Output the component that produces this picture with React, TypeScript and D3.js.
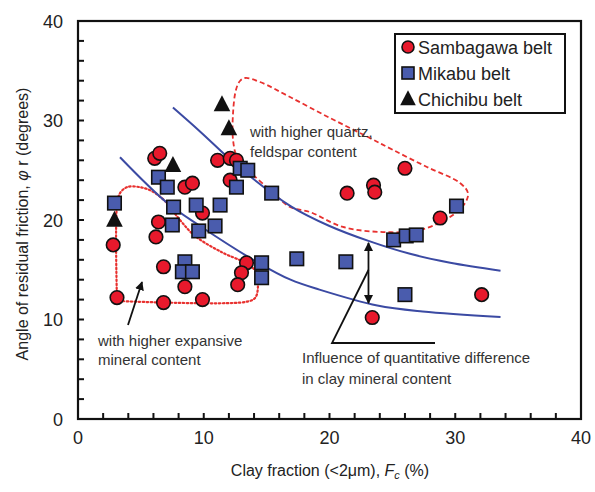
import React from 'react';
import * as d3 from 'd3';

// ---- data ----
const sambagawa: [number, number][] = [
  [2.8, 17.5], [3.1, 12.2], [6.1, 26.2], [6.5, 26.7], [8.5, 23.3], [9.1, 23.7],
  [6.4, 19.8], [6.2, 18.3], [6.8, 15.3], [8.5, 13.3], [6.8, 11.7], [9.9, 12.0],
  [9.9, 20.7], [11.1, 26.0], [12.1, 26.2], [12.6, 26.0], [12.1, 24.0], [13.4, 15.7],
  [13.0, 14.7], [12.7, 13.5], [21.4, 22.7], [23.5, 23.5], [23.6, 22.8], [26.0, 25.2],
  [28.8, 20.2], [32.1, 12.5], [23.4, 10.2],
];
const mikabu: [number, number][] = [
  [2.9, 21.7], [6.4, 24.3], [7.1, 23.3], [7.6, 21.3], [9.4, 21.5], [7.5, 19.5],
  [8.5, 15.8], [8.3, 14.8], [9.1, 14.8], [9.6, 18.9], [10.9, 19.4], [11.3, 21.5],
  [12.9, 25.2], [13.5, 25.0], [12.6, 23.3], [15.4, 22.7], [14.6, 15.7], [14.6, 14.2],
  [17.4, 16.1], [21.3, 15.8], [25.1, 18.0], [26.1, 18.4], [26.9, 18.5], [30.1, 21.4],
  [26.0, 12.5],
];
const chichibu: [number, number][] = [
  [2.9, 20.0], [7.55, 25.5], [11.45, 31.6], [12.0, 29.2],
];
const upperCurve: [number, number][] = [
  [7.55, 31.3], [9.7, 28.9], [12.9, 25.2], [16.9, 21.4], [20.0, 19.4],
  [23.1, 17.9], [26.4, 16.6], [29.6, 15.7], [33.6, 14.9],
];
const lowerCurve: [number, number][] = [
  [3.34, 26.3], [7.1, 21.7], [9.7, 19.4], [14.2, 15.8], [16.9, 14.0],
  [19.2, 13.0], [23.8, 11.4], [27.4, 10.8], [33.6, 10.25],
];
const expansiveBoundary: [number, number][] = [
  [3.1, 11.86], [3.1, 21.5], [3.34, 22.7], [3.9, 23.3], [4.93, 23.3], [5.88, 22.9],
  [6.92, 21.9], [8.11, 20.0], [9.3, 18.4], [11.53, 16.7], [13.12, 15.8], [14.16, 14.8],
  [14.31, 13.3], [14.08, 12.16], [13.28, 11.76], [3.1, 11.86],
];
const quartzBoundary: [number, number][] = [
  [13.28, 34.27], [14.47, 33.87], [16.86, 32.36], [20.04, 30.25], [23.06, 28.34],
  [25.05, 27.04], [27.75, 25.33], [30.38, 23.72], [31.01, 22.71], [30.78, 21.71],
  [29.58, 20.3], [27.2, 19.0], [24.25, 18.79], [21.07, 19.3], [18.45, 20.8],
  [16.86, 21.31], [15.27, 23.02], [13.28, 25.33], [12.64, 26.33], [12.33, 28.04],
  [12.33, 30.75], [12.56, 33.07], [12.88, 33.97],
];
const majorTicks = [0, 10, 20, 30, 40];
const minorTicks = d3.range(2, 40, 2);
const legendItems = ['Sambagawa belt', 'Mikabu belt', 'Chichibu belt'];

const RED = '#e8192c';
const BLUE = '#4a5cad';
const LINE_BLUE = '#3b4aa3';
const FONT = '"Liberation Sans", Arial, sans-serif';

export default function App() {
  const W = 595, H = 492;
  const x = d3.scaleLinear().domain([0, 40]).range([78, 581]);
  const y = d3.scaleLinear().domain([0, 40]).range([419, 21]);

  const smooth = d3.line<[number, number]>().x(d => x(d[0])).y(d => y(d[1])).curve(d3.curveCatmullRom.alpha(0.5));
  const closed = d3.line<[number, number]>().x(d => x(d[0])).y(d => y(d[1])).curve(d3.curveCatmullRomClosed.alpha(0.5));

  const tri = (cx: number, cy: number, s: number) =>
    `M${cx},${cy - s * 0.58}L${cx + s * 0.52},${cy + s * 0.42}L${cx - s * 0.52},${cy + s * 0.42}Z`;

  const circle = (cx: number, cy: number, r: number, key: any) => (
    <circle key={key} cx={cx} cy={cy} r={r} fill={RED} stroke="#111" strokeWidth={1.6} />
  );
  const square = (cx: number, cy: number, s: number, key: any) => (
    <rect key={key} x={cx - s / 2} y={cy - s / 2} width={s} height={s} fill={BLUE} stroke="#111" strokeWidth={1.6} />
  );

  const dblX = x(23.1);
  const dblTop = y(17.7);
  const dblBot = y(11.65);

  return (
    <svg width={W} height={H} style={{ position: 'absolute', left: 0, top: 0, background: '#fff' }} fontFamily={FONT}>
      <defs>
        <marker id="ah" viewBox="0 0 10 10" refX="9" refY="5" markerWidth="9" markerHeight="9" orient="auto-start-reverse" markerUnits="userSpaceOnUse">
          <path d="M0,0L10,5L0,10Z" fill="#111" />
        </marker>
      </defs>

      {/* boundaries */}
      <path d={smooth(expansiveBoundary) || ''} fill="none" stroke="#e8312f" strokeWidth={2.2} strokeDasharray="1.5,2.5" strokeLinecap="round" />
      <path d={closed(quartzBoundary) || ''} fill="none" stroke="#e8312f" strokeWidth={1.8} strokeDasharray="5,3" />

      {/* curves */}
      <path d={smooth(upperCurve) || ''} fill="none" stroke={LINE_BLUE} strokeWidth={2} />
      <path d={smooth(lowerCurve) || ''} fill="none" stroke={LINE_BLUE} strokeWidth={2} />

      {/* markers */}
      {sambagawa.map((d, i) => circle(x(d[0]), y(d[1]), 6.8, 's' + i))}
      {mikabu.map((d, i) => square(x(d[0]), y(d[1]), 13.5, 'm' + i))}
      {chichibu.map((d, i) => <path key={'c' + i} d={tri(x(d[0]), y(d[1]), 16)} fill="#111" />)}

      {/* annotations */}
      <g fill="#333" fontSize={15}>
        <text x={250} y={137}>with higher quartz,</text>
        <text x={250} y={157}>feldspar content</text>
        <text x={98} y={346}>with higher expansive</text>
        <text x={98} y={365}>mineral content</text>
        <text x={302} y={363}>Influence of quantitative difference</text>
        <text x={302} y={384}>in clay mineral content</text>
      </g>
      <line x1={128} y1={325} x2={142} y2={282} stroke="#111" strokeWidth={1.8} markerEnd="url(#ah)" />
      <line x1={dblX} y1={dblBot} x2={dblX} y2={dblTop} stroke="#111" strokeWidth={1.8} markerStart="url(#ah)" markerEnd="url(#ah)" />
      <polyline points={`435,343 332,343 ${dblX},270`} fill="none" stroke="#111" strokeWidth={1.8} />

      {/* frame */}
      <rect x={x(0)} y={y(40)} width={x(40) - x(0)} height={y(0) - y(40)} fill="none" stroke="#111" strokeWidth={2.2} />
      {minorTicks.map(t => (
        <line key={'yt' + t} x1={x(0)} x2={x(0) + 6} y1={y(t)} y2={y(t)} stroke="#111" strokeWidth={2} />
      ))}
      {minorTicks.map(t => (
        <line key={'xt' + t} x1={x(t)} x2={x(t)} y1={y(0)} y2={y(0) - 6} stroke="#111" strokeWidth={2} />
      ))}
      {majorTicks.map(t => (
        <text key={'yl' + t} x={63} y={y(t) + 6.5} textAnchor="end" fontSize={18} fill="#222">{t}</text>
      ))}
      {majorTicks.map(t => (
        <text key={'xl' + t} x={x(t)} y={444} textAnchor="middle" fontSize={18} fill="#222">{t}</text>
      ))}

      {/* axis titles */}
      <text x={330} y={476} textAnchor="middle" fontSize={16} fill="#222">
        Clay fraction (&lt;2μm), <tspan fontStyle="italic">F</tspan>
        <tspan fontStyle="italic" fontSize={11} dy={3}>c</tspan>
        <tspan dy={-3}> (%)</tspan>
      </text>
      <text transform={`translate(28,${224}) rotate(-90)`} textAnchor="middle" fontSize={16} fill="#222">
        Angle of residual friction,  <tspan fontStyle="italic">φ</tspan> r (degrees)
      </text>

      {/* legend */}
      <rect x={395} y={34} width={170} height={79} fill="#fff" stroke="#111" strokeWidth={2} />
      {legendItems.map((name, i) => {
        const cy = 47 + i * 26;
        return (
          <g key={name}>
            {i === 0 && circle(408, cy, 6, 'lc')}
            {i === 1 && square(408, cy, 12, 'ls')}
            {i === 2 && <path d={tri(408, cy, 15)} fill="#111" />}
            <text x={418} y={cy + 6.5} fontSize={18} fill="#222">{name}</text>
          </g>
        );
      })}
    </svg>
  );
}
